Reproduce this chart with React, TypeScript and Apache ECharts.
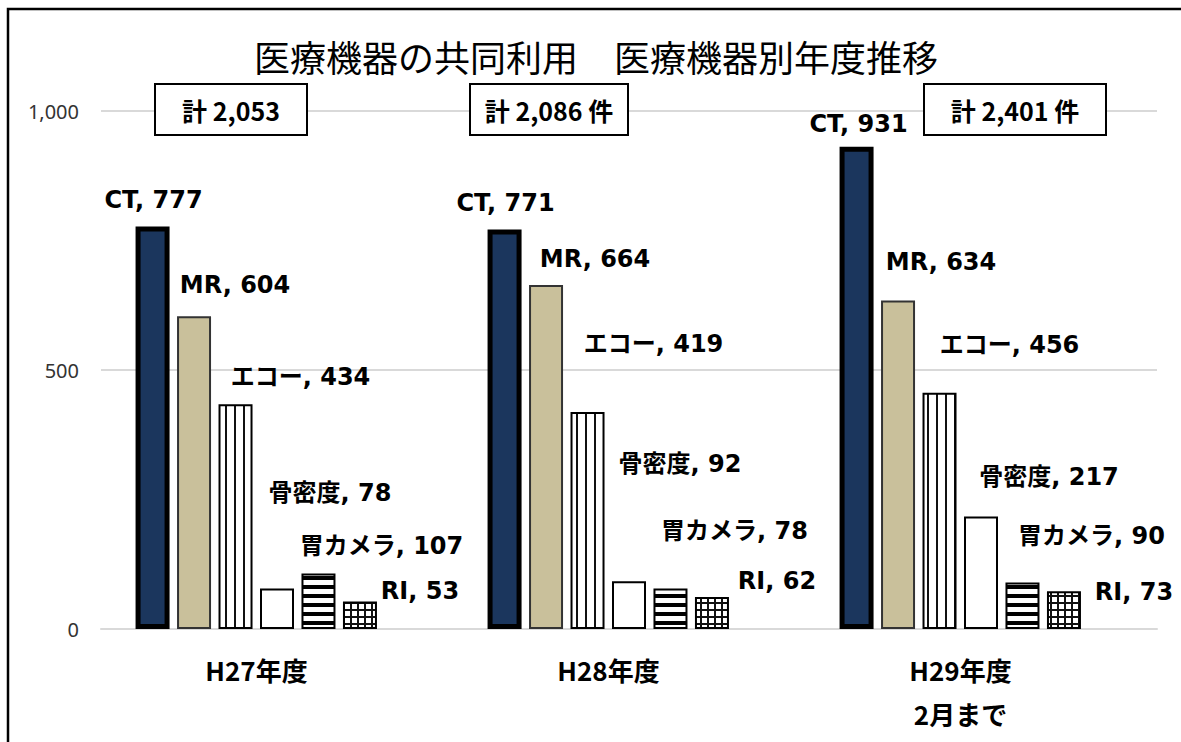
import React, { useEffect, useRef } from "react";
import * as echarts from "echarts";

const categories = ["H27年度", "H28年度", "H29年度\n2月まで"];
const seriesNames = ["CT", "MR", "エコー", "骨密度", "胃カメラ", "RI"];
const ctValues = [777, 771, 931];
const mrValues = [604, 664, 634];
const echoValues = [434, 419, 456];
const boneValues = [78, 92, 217];
const gastroValues = [107, 78, 90];
const riValues = [53, 62, 73];
const totalLabels = ["計 2,053", "計 2,086 件", "計 2,401 件"];

// label placement (layout only): [dx, dy] from bar top centre
const labelOffsets = [
  [[1, -27], [1, -27], [2, -23]],
  [[41, -31], [49, -26], [43, -39]],
  [[65, -27], [66, -68], [70, -48]],
  [[53, -96], [51, -117], [68, -40]],
  [[63, -28], [64, -58], [69, -46]],
  [[60, -11], [65, -16], [70, 1]],
];

// total boxes layout: x, y, w, h
const boxLayout = [
  [155, 84, 152, 51],
  [470, 84, 158, 51],
  [924, 84, 182, 51],
];

function makePattern(kind: string): HTMLCanvasElement {
  const c = document.createElement("canvas");
  const ctx = c.getContext("2d")!;
  if (kind === "vertical") {
    c.width = 9; c.height = 4;
    ctx.fillStyle = "#fff"; ctx.fillRect(0, 0, 9, 4);
    ctx.fillStyle = "#111"; ctx.fillRect(0, 0, 2, 4);
  } else if (kind === "horizontal") {
    c.width = 4; c.height = 9;
    ctx.fillStyle = "#fff"; ctx.fillRect(0, 0, 4, 9);
    ctx.fillStyle = "#000"; ctx.fillRect(0, 0, 4, 4);
  } else {
    c.width = 7; c.height = 7;
    ctx.fillStyle = "#fff"; ctx.fillRect(0, 0, 7, 7);
    ctx.fillStyle = "#111";
    ctx.fillRect(0, 0, 7, 2);
    ctx.fillRect(0, 0, 2, 7);
  }
  return c;
}

export default function App() {
  const ref = useRef<HTMLDivElement>(null);
  useEffect(() => {
    if (!ref.current) return;
    document.body.style.margin = "0";
    document.body.style.overflow = "hidden";
    const chart = echarts.init(ref.current, null, { renderer: "svg" });
    const allValues = [ctValues, mrValues, echoValues, boneValues, gastroValues, riValues];
    const fills: any[] = [
      "#1b365d",
      "#c9c09b",
      { image: makePattern("vertical"), repeat: "repeat" },
      "#ffffff",
      { image: makePattern("horizontal"), repeat: "repeat" },
      { image: makePattern("grid"), repeat: "repeat" },
    ];
    const borders = [
      { c: "#000", w: 5 },
      { c: "#333", w: 2 },
      { c: "#000", w: 2 },
      { c: "#000", w: 2 },
      { c: "#000", w: 2 },
      { c: "#000", w: 2 },
    ];
    const series: any[] = seriesNames.map((name, si) => ({
      type: "bar",
      name,
      barWidth: 34,
      barGap: "22%",
      itemStyle: { color: fills[si], borderColor: borders[si].c, borderWidth: borders[si].w },
      label: {
        show: true,
        position: "top",
        distance: 0,
        align: "center",
        verticalAlign: "middle",
        formatter: `${name}, {c}`,
        fontFamily: "DejaVu Sans, Noto Sans CJK JP",
        fontWeight: "bold",
        fontSize: 24,
        color: "#000",
      },
      data: allValues[si].map((v, ci) => ({
        value: v,
        label: { offset: labelOffsets[si][ci] },
      })),
    }));
    // spacer series so the six bars sit left of category centre
    series.push({
      type: "bar",
      name: "spacer",
      barWidth: 34,
      barGap: "22%",
      silent: true,
      data: ["-", "-", "-"],
    });

    const graphics: any[] = [
      {
        type: "polyline",
        shape: { points: [[8, 800], [8, 9], [1250, 9]] },
        style: { fill: "none", stroke: "#000", lineWidth: 2.5 },
        z: 100,
      },
      {
        type: "text",
        x: 596,
        y: 56,
        style: {
          text: "医療機器の共同利用　医療機器別年度推移",
          font: "36px 'Noto Sans CJK JP'",
          fill: "#000",
          textAlign: "center",
          textVerticalAlign: "middle",
        },
      },
    ];
    totalLabels.forEach((t, i) => {
      const [x, y, w, h] = boxLayout[i];
      graphics.push({
        type: "rect",
        shape: { x, y, width: w, height: h },
        style: { fill: "#fff", stroke: "#000", lineWidth: 2 },
        z: 50,
      });
      graphics.push({
        type: "text",
        x: x + w / 2,
        y: y + h / 2,
        z: 51,
        style: {
          text: t,
          font: "bold 25px 'Noto Sans CJK JP'",
          fill: "#000",
          textAlign: "center",
          textVerticalAlign: "middle",
        },
      });
    });

    chart.setOption({
      animation: false,
      backgroundColor: "#fff",
      grid: { left: 101, right: 24, top: 111, bottom: 113 },
      xAxis: {
        type: "category",
        data: categories,
        axisLine: { lineStyle: { color: "#d9d9d9", width: 2 } },
        axisTick: { show: false },
        axisLabel: {
          fontFamily: "Noto Sans CJK JP",
          fontWeight: "bold",
          fontSize: 26,
          color: "#000",
          lineHeight: 44,
          margin: 18,
          padding: [0, 41, 0, 0],
        },
      },
      yAxis: {
        type: "value",
        min: 0,
        max: 1000,
        interval: 500,
        axisLine: { show: false },
        axisTick: { show: false },
        splitLine: { lineStyle: { color: "#d9d9d9", width: 2 } },
        axisLabel: {
          fontFamily: "Noto Sans",
          fontSize: 20,
          color: "#333",
          margin: 22,
          formatter: (v: number) => v.toLocaleString("en-US"),
        },
      },
      series,
      graphic: graphics,
    });
    return () => chart.dispose();
  }, []);
  return (
    <div
      ref={ref}
      style={{ position: "fixed", left: 0, top: 0, width: 1181, height: 742, background: "#fff" }}
    />
  );
}
